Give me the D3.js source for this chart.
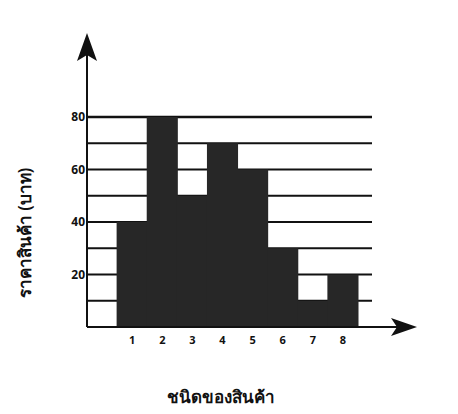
<!DOCTYPE html>
<html>
<head>
<meta charset="utf-8">
<script src="https://cdn.jsdelivr.net/npm/d3@7"></script>
<style>
  body { margin: 0; background: #fff; }
  text { font-family: "Open Sans", "Noto Sans", sans-serif; fill: #111; }
</style>
</head>
<body>
<div id="svg-container"></div>
<script>
// data
const categories = ["1", "2", "3", "4", "5", "6", "7", "8"];
const prices = [40, 80, 50, 70, 60, 30, 10, 20];
const yTicks = [20, 40, 60, 80];
const gridValues = [10, 20, 30, 40, 50, 60, 70, 80];

const width = 458;
const height = 414;

const svg = d3.select("#svg-container").append("svg")
  .attr("width", width)
  .attr("height", height);

// scale
const xScale = d3.scaleBand()
  .domain([""].concat(categories)) // empty first column
  .range([87, 358])
  .paddingInner(0);

const yScale = d3.scaleLinear()
  .domain([0, 80])
  .range([327, 117]);

const axisX = 87;
const baseY = yScale(0);

// grid lines
svg.append("g")
  .selectAll("line")
  .data(gridValues)
  .enter()
  .append("line")
  .attr("x1", axisX)
  .attr("x2", 372)
  .attr("y1", (d) => yScale(d))
  .attr("y2", (d) => yScale(d))
  .attr("stroke", "#111")
  .attr("stroke-width", (d) => (d === 80 ? 2.4 : 1.8));

// bars (slight overlap so neighbours merge into one block)
svg.append("g")
  .selectAll("rect")
  .data(prices)
  .enter()
  .append("rect")
  .attr("x", (d, i) => xScale(categories[i]) - 0.5)
  .attr("y", (d) => yScale(d))
  .attr("width", xScale.bandwidth() + 1)
  .attr("height", (d) => baseY - yScale(d))
  .attr("fill", "#272727");

// y axis with arrow
svg.append("line")
  .attr("x1", axisX).attr("x2", axisX)
  .attr("y1", baseY).attr("y2", 50)
  .attr("stroke", "#111").attr("stroke-width", 2);
svg.append("path")
  .attr("d", `M${axisX},33 L${axisX - 10},61 L${axisX},55 L${axisX + 10},61 Z`)
  .attr("fill", "#111");

// x axis with arrow
svg.append("line")
  .attr("x1", axisX).attr("x2", 405)
  .attr("y1", baseY).attr("y2", baseY)
  .attr("stroke", "#111").attr("stroke-width", 2);
svg.append("path")
  .attr("d", `M417,${baseY} L391,${baseY - 9} L397,${baseY} L391,${baseY + 9} Z`)
  .attr("fill", "#111");

// tick labels
svg.append("g")
  .selectAll("text")
  .data(yTicks)
  .enter()
  .append("text")
  .attr("x", axisX - 2)
  .attr("y", (d) => yScale(d) + 4)
  .attr("text-anchor", "end")
  .attr("font-size", 12)
  .attr("font-weight", 700)
  .text((d) => d);

svg.append("g")
  .selectAll("text")
  .data(categories)
  .enter()
  .append("text")
  .attr("x", (d) => xScale(d) + xScale.bandwidth() / 2)
  .attr("y", 344)
  .attr("text-anchor", "middle")
  .attr("font-size", 11)
  .attr("font-weight", 700)
  .text((d) => d);

// axis titles
svg.append("text")
  .attr("transform", "translate(31,233) rotate(-90)")
  .attr("text-anchor", "middle")
  .attr("font-size", 17)
  .attr("font-weight", 600)
  .style("font-family", "'Noto Sans', sans-serif")
  .text("ราคาสินค้า (บาท)");

svg.append("text")
  .attr("x", 221)
  .attr("y", 403)
  .attr("text-anchor", "middle")
  .attr("font-size", 17)
  .attr("font-weight", 600)
  .style("font-family", "'Noto Sans', sans-serif")
  .text("ชนิดของสินค้า");
</script>
</body>
</html>
